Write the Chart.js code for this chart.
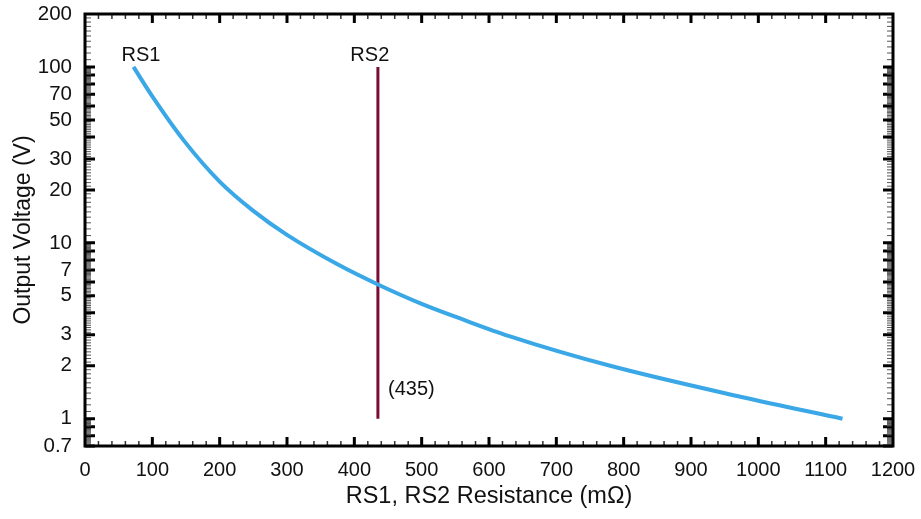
<!DOCTYPE html>
<html>
<head>
<meta charset="utf-8">
<script src="https://cdn.jsdelivr.net/npm/chart.js@4"></script>
<style>
  body { margin: 0; background: #fff; }
  #wrap { width: 921px; height: 519px; position: relative; }
</style>
</head>
<body>
<div id="wrap"><canvas id="chart"></canvas></div>
<script>
// RS1 curve: resistance (mOhm) vs output voltage (V)
const resistance = [72, 100, 146, 200, 250, 300, 375, 435, 500, 560, 630, 780, 975, 1125];
const voltage = [100, 68, 38.5, 22.3, 15.2, 11.1, 7.55, 5.8, 4.5, 3.68, 2.95, 2, 1.33, 1];

// RS2 marker line
const rs2X = [435, 435];
const rs2V = [1, 100];

const yTickValues = [0.7, 1, 2, 3, 5, 7, 10, 20, 30, 50, 70, 100, 200];
const xTickStep = 100;

const FONT = "'Liberation Sans', Arial, sans-serif";

const tickPlugin = {
    id: 'innerTicks',
    afterDraw(chart) {
        const ctx = chart.ctx;
        const area = chart.chartArea;
        const xs = chart.scales.x;
        const ys = chart.scales.y;
        ctx.save();

        // y ticks: long at each integer mantissa, short every tenth in between
        for (let d = -1; d <= 2; d++) {
            const base = Math.pow(10, d);
            for (let m = 1; m < 10; m++) {
                for (let k = 0; k < 10; k++) {
                    const v = (m + k / 10) * base;
                    if (v <= ys.min || v >= ys.max) continue;
                    const py = ys.getPixelForValue(v);
                    const major = k === 0;
                    ctx.strokeStyle = major ? '#000' : '#555';
                    ctx.lineWidth = major ? 3 : 1;
                    const len = major ? 10 : 6;
                    ctx.beginPath();
                    ctx.moveTo(area.left, py); ctx.lineTo(area.left + len, py);
                    ctx.moveTo(area.right, py); ctx.lineTo(area.right - len, py);
                    ctx.stroke();
                }
            }
        }

        // x ticks: major every 100, minor every 20
        for (let v = 20; v < xs.max; v += 20) {
            const px = xs.getPixelForValue(v);
            const major = v % 100 === 0;
            ctx.strokeStyle = major ? '#000' : '#333';
            ctx.lineWidth = major ? 3 : 1.5;
            const len = major ? 9 : 5;
            ctx.beginPath();
            ctx.moveTo(px, area.bottom); ctx.lineTo(px, area.bottom - len);
            ctx.moveTo(px, area.top); ctx.lineTo(px, area.top + len);
            ctx.stroke();
        }

        // frame
        ctx.strokeStyle = '#000';
        ctx.lineWidth = 3;
        ctx.strokeRect(area.left, area.top, area.right - area.left, area.bottom - area.top);

        // annotations
        ctx.fillStyle = '#111';
        ctx.font = '20px ' + FONT;
        ctx.textBaseline = 'bottom';
        ctx.textAlign = 'center';
        ctx.fillText('RS1', xs.getPixelForValue(83), ys.getPixelForValue(100) - 1);
        ctx.fillText('RS2', xs.getPixelForValue(423), ys.getPixelForValue(100) - 1);
        ctx.textAlign = 'left';
        ctx.textBaseline = 'middle';
        ctx.fillText('(435)', xs.getPixelForValue(450), ys.getPixelForValue(1.47));
        ctx.restore();
    }
};

new Chart(document.getElementById('chart'), {
    type: 'line',
    data: {
        datasets: [
            {
                label: 'RS1',
                data: resistance.map((r, i) => ({ x: r, y: voltage[i] })),
                borderColor: '#3aa7e6',
                borderWidth: 4,
                pointRadius: 0,
                cubicInterpolationMode: 'monotone',
                fill: false
            },
            {
                label: 'RS2',
                data: rs2X.map((r, i) => ({ x: r, y: rs2V[i] })),
                borderColor: '#7b0c36',
                borderWidth: 3,
                pointRadius: 0,
                fill: false
            }
        ]
    },
    options: {
        responsive: true,
        maintainAspectRatio: false,
        animation: false,
        layout: { padding: { top: 14, right: 28, bottom: 0, left: 0 } },
        plugins: {
            legend: { display: false },
            tooltip: { enabled: false }
        },
        scales: {
            x: {
                type: 'linear',
                min: 0,
                max: 1200,
                grid: { display: false },
                border: { display: false },
                ticks: {
                    stepSize: xTickStep,
                    color: '#111',
                    font: { family: FONT, size: 20 },
                    padding: 4,
                    maxRotation: 0,
                    callback: v => String(v)
                },
                title: {
                    display: true,
                    text: 'RS1, RS2 Resistance (mΩ)',
                    color: '#111',
                    font: { family: FONT, size: 23.5 },
                    padding: { top: 0, bottom: 8 }
                },
                afterFit(scale) {
                    scale.height = 73;
                    scale.paddingLeft = 0;
                    scale.paddingRight = 0;
                }
            },
            y: {
                type: 'logarithmic',
                min: 0.7,
                max: 200,
                grid: { display: false },
                border: { display: false },
                afterBuildTicks(scale) {
                    scale.ticks = yTickValues.map(v => ({ value: v }));
                },
                ticks: {
                    autoSkip: false,
                    color: '#111',
                    font: { family: FONT, size: 20.5 },
                    padding: 5,
                    callback: v => String(v)
                },
                title: {
                    display: true,
                    text: 'Output Voltage (V)',
                    color: '#111',
                    font: { family: FONT, size: 23 },
                    padding: { top: 10, bottom: 0 }
                },
                afterFit(scale) {
                    scale.width = 85;
                    scale.paddingTop = 0;
                    scale.paddingBottom = 0;
                }
            }
        }
    },
    plugins: [tickPlugin]
});
</script>
</body>
</html>
